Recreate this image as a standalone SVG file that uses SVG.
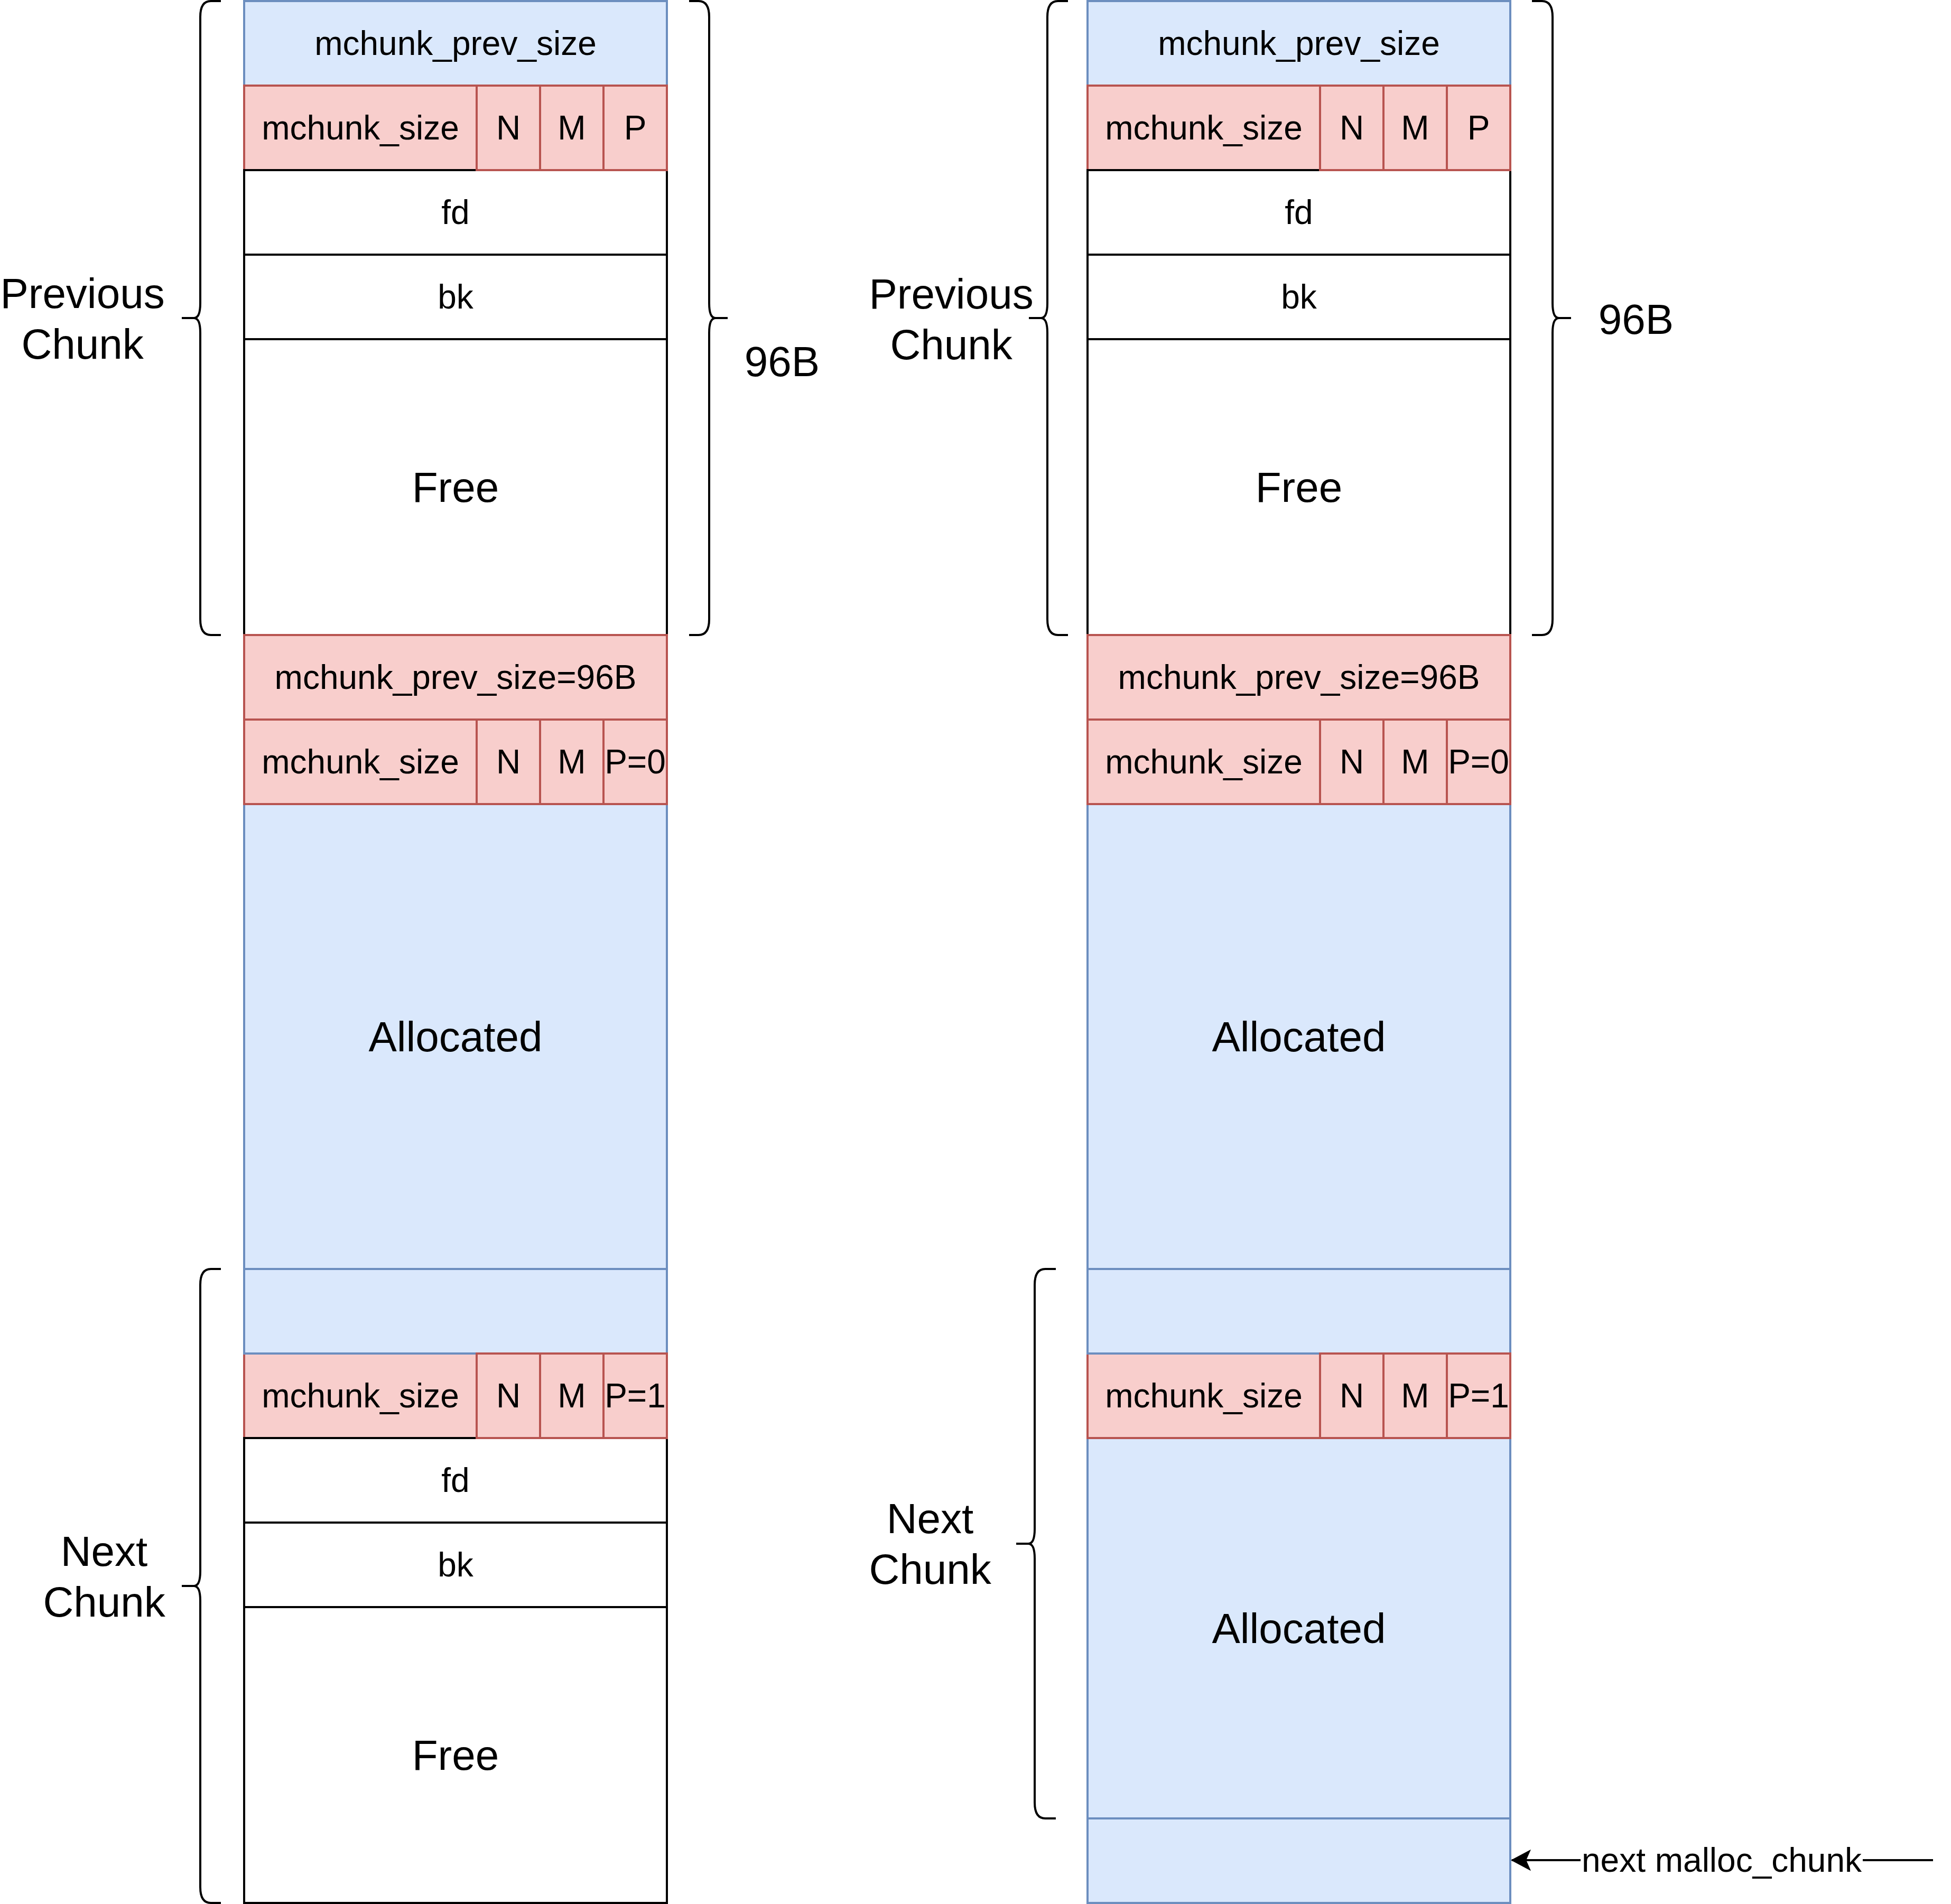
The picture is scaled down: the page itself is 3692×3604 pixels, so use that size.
<svg xmlns="http://www.w3.org/2000/svg" width="3692" height="3604" viewBox="0 0 3692 3604">
<defs>
<style>
.blue{fill:#dae8fc;stroke:#6c8ebf;stroke-width:4}
.red{fill:#f8cecc;stroke:#b85450;stroke-width:4}
.white{fill:#ffffff;stroke:#000000;stroke-width:4}
.brace{fill:none;stroke:#000000;stroke-width:4;stroke-linejoin:round}
text{font-family:"Liberation Sans",Arial,Helvetica,sans-serif;fill:#000000;text-anchor:middle}
.t{font-size:64px}
.big{font-size:80px}
.conn{fill:none;stroke:#000000;stroke-width:4}
</style>
<marker id="arrow" viewBox="-2 -20 38 40" refX="34" refY="0" markerWidth="38" markerHeight="40" markerUnits="userSpaceOnUse" orient="auto">
<path d="M0,-18 L34,0 L0,18 L8,0 Z" fill="#000000" stroke="#000000" stroke-width="2" stroke-linejoin="miter"/>
</marker>
</defs>
<rect x="0" y="0" width="3692" height="3604" fill="#ffffff"/>

<!-- Left column -->
<g id="L-prev-size"><rect class="blue" x="462" y="2" width="800" height="160"/><text class="t" x="862" y="104">mchunk_prev_size</text></g>
<g id="L-size"><rect class="red" x="462" y="162" width="440" height="160"/><text class="t" x="682" y="264">mchunk_size</text></g>
<g id="L-fd"><rect class="white" x="462" y="322" width="800" height="160"/><text class="t" x="862" y="424">fd</text></g>
<g id="L-bk"><rect class="white" x="462" y="482" width="800" height="160"/><text class="t" x="862" y="584">bk</text></g>
<g id="L-free"><rect class="white" x="462" y="642" width="800" height="560"/><text class="big" x="862" y="950">Free</text></g>
<g id="L-prev-size-96"><rect class="red" x="462" y="1202" width="800" height="160"/><text class="t" x="862" y="1304">mchunk_prev_size=96B</text></g>
<g id="L-N"><rect class="red" x="902" y="162" width="120" height="160"/><text class="t" x="962" y="264">N</text></g>
<g id="L-M"><rect class="red" x="1022" y="162" width="120" height="160"/><text class="t" x="1082" y="264">M</text></g>
<g id="L-P"><rect class="red" x="1142" y="162" width="120" height="160"/><text class="t" x="1202" y="264">P</text></g>
<g id="L-alloc"><rect class="blue" x="462" y="1522" width="800" height="880"/><text class="big" x="862" y="1990">Allocated</text></g>
<g id="L-size2"><rect class="red" x="462" y="1362" width="440" height="160"/><text class="t" x="682" y="1464">mchunk_size</text></g>
<g id="L-N2"><rect class="red" x="902" y="1362" width="120" height="160"/><text class="t" x="962" y="1464">N</text></g>
<g id="L-M2"><rect class="red" x="1022" y="1362" width="120" height="160"/><text class="t" x="1082" y="1464">M</text></g>
<g id="L-P2"><rect class="red" x="1142" y="1362" width="120" height="160"/><text class="t" x="1202" y="1464">P=0</text></g>
<g id="L-size3"><rect class="red" x="462" y="2562" width="440" height="160"/><text class="t" x="682" y="2664">mchunk_size</text></g>
<g id="L-blank"><rect class="blue" x="462" y="2402" width="800" height="160"/></g>
<g id="L-fd2"><rect class="white" x="462" y="2722" width="800" height="160"/><text class="t" x="862" y="2824">fd</text></g>
<g id="L-bk2"><rect class="white" x="462" y="2882" width="800" height="160"/><text class="t" x="862" y="2984">bk</text></g>
<g id="L-free2"><rect class="white" x="462" y="3042" width="800" height="560"/><text class="big" x="862" y="3350">Free</text></g>
<g id="L-N3"><rect class="red" x="902" y="2562" width="120" height="160"/><text class="t" x="962" y="2664">N</text></g>
<g id="L-M3"><rect class="red" x="1022" y="2562" width="120" height="160"/><text class="t" x="1082" y="2664">M</text></g>
<g id="L-P3"><rect class="red" x="1142" y="2562" width="120" height="160"/><text class="t" x="1202" y="2664">P=1</text></g>

<!-- Right column -->
<g id="R-prev-size"><rect class="blue" x="2058" y="2" width="800" height="160"/><text class="t" x="2458" y="104">mchunk_prev_size</text></g>
<g id="R-size"><rect class="red" x="2058" y="162" width="440" height="160"/><text class="t" x="2278" y="264">mchunk_size</text></g>
<g id="R-fd"><rect class="white" x="2058" y="322" width="800" height="160"/><text class="t" x="2458" y="424">fd</text></g>
<g id="R-bk"><rect class="white" x="2058" y="482" width="800" height="160"/><text class="t" x="2458" y="584">bk</text></g>
<g id="R-free"><rect class="white" x="2058" y="642" width="800" height="560"/><text class="big" x="2458" y="950">Free</text></g>
<g id="R-prev-size-96"><rect class="red" x="2058" y="1202" width="800" height="160"/><text class="t" x="2458" y="1304">mchunk_prev_size=96B</text></g>
<g id="R-N"><rect class="red" x="2498" y="162" width="120" height="160"/><text class="t" x="2558" y="264">N</text></g>
<g id="R-M"><rect class="red" x="2618" y="162" width="120" height="160"/><text class="t" x="2678" y="264">M</text></g>
<g id="R-P"><rect class="red" x="2738" y="162" width="120" height="160"/><text class="t" x="2798" y="264">P</text></g>
<g id="R-alloc"><rect class="blue" x="2058" y="1522" width="800" height="880"/><text class="big" x="2458" y="1990">Allocated</text></g>
<g id="R-size2"><rect class="red" x="2058" y="1362" width="440" height="160"/><text class="t" x="2278" y="1464">mchunk_size</text></g>
<g id="R-N2"><rect class="red" x="2498" y="1362" width="120" height="160"/><text class="t" x="2558" y="1464">N</text></g>
<g id="R-M2"><rect class="red" x="2618" y="1362" width="120" height="160"/><text class="t" x="2678" y="1464">M</text></g>
<g id="R-P2"><rect class="red" x="2738" y="1362" width="120" height="160"/><text class="t" x="2798" y="1464">P=0</text></g>
<g id="R-alloc2"><rect class="blue" x="2058" y="2722" width="800" height="720"/><text class="big" x="2458" y="3110">Allocated</text></g>
<g id="R-size3"><rect class="red" x="2058" y="2562" width="440" height="160"/><text class="t" x="2278" y="2664">mchunk_size</text></g>
<g id="R-blank"><rect class="blue" x="2058" y="2402" width="800" height="160"/></g>
<g id="R-next-chunk-cell"><rect class="blue" x="2058" y="3442" width="800" height="160"/></g>
<g id="R-N3"><rect class="red" x="2498" y="2562" width="120" height="160"/><text class="t" x="2558" y="2664">N</text></g>
<g id="R-M3"><rect class="red" x="2618" y="2562" width="120" height="160"/><text class="t" x="2678" y="2664">M</text></g>
<g id="R-P3"><rect class="red" x="2738" y="2562" width="120" height="160"/><text class="t" x="2798" y="2664">P=1</text></g>

<!-- Braces -->
<g id="L-prev-brace"><path class="brace" d="M418,2 L399,2 Q379,2 379,32 L379,574 Q379,602 367,602 L344,602 M367,602 Q379,602 379,630 L379,1172 Q379,1202 399,1202 L418,1202"/></g>
<g id="L-96-brace"><path class="brace" d="M1304,2 L1322,2 Q1342,2 1342,32 L1342,574 Q1342,602 1354,602 L1377,602 M1354,602 Q1342,602 1342,630 L1342,1172 Q1342,1202 1322,1202 L1304,1202"/></g>
<g id="L-next-brace"><path class="brace" d="M418,2402 L399,2402 Q379,2402 379,2432 L379,2974 Q379,3002 367,3002 L344,3002 M367,3002 Q379,3002 379,3030 L379,3572 Q379,3602 399,3602 L418,3602"/></g>
<g id="R-prev-brace"><path class="brace" d="M2021,2 L2002,2 Q1982,2 1982,32 L1982,574 Q1982,602 1970,602 L1947,602 M1970,602 Q1982,602 1982,630 L1982,1172 Q1982,1202 2002,1202 L2021,1202"/></g>
<g id="R-96-brace"><path class="brace" d="M2899,2 L2918,2 Q2938,2 2938,32 L2938,574 Q2938,602 2950,602 L2973,602 M2950,602 Q2938,602 2938,630 L2938,1172 Q2938,1202 2918,1202 L2899,1202"/></g>
<g id="R-next-brace"><path class="brace" d="M1998,2402 L1978,2402 Q1958,2402 1958,2432 L1958,2894 Q1958,2922 1946,2922 L1923,2922 M1946,2922 Q1958,2922 1958,2950 L1958,3412 Q1958,3442 1978,3442 L1998,3442"/></g>

<!-- Labels -->
<g id="L-prev-label"><text class="big" x="156"><tspan x="156" y="583">Previous</tspan><tspan x="156" y="679">Chunk</tspan></text></g>
<g id="L-96-label"><text class="big" x="1480" y="712">96B</text></g>
<g id="L-next-label"><text class="big" x="197"><tspan x="197" y="2964">Next</tspan><tspan x="197" y="3060">Chunk</tspan></text></g>
<g id="R-prev-label"><text class="big" x="1800"><tspan x="1800" y="584">Previous</tspan><tspan x="1800" y="680">Chunk</tspan></text></g>
<g id="R-96-label"><text class="big" x="3096" y="632">96B</text></g>
<g id="R-next-label"><text class="big" x="1760"><tspan x="1760" y="2902">Next</tspan><tspan x="1760" y="2998">Chunk</tspan></text></g>

<!-- Connectors -->
<g id="connectors">
<path class="conn" d="M3658,3521 L2861,3521" marker-end="url(#arrow)"/>
<rect x="2991" y="3487" width="534" height="70" fill="#ffffff"/>
<text class="t" x="3258" y="3543">next malloc_chunk</text>
</g>
</svg>
